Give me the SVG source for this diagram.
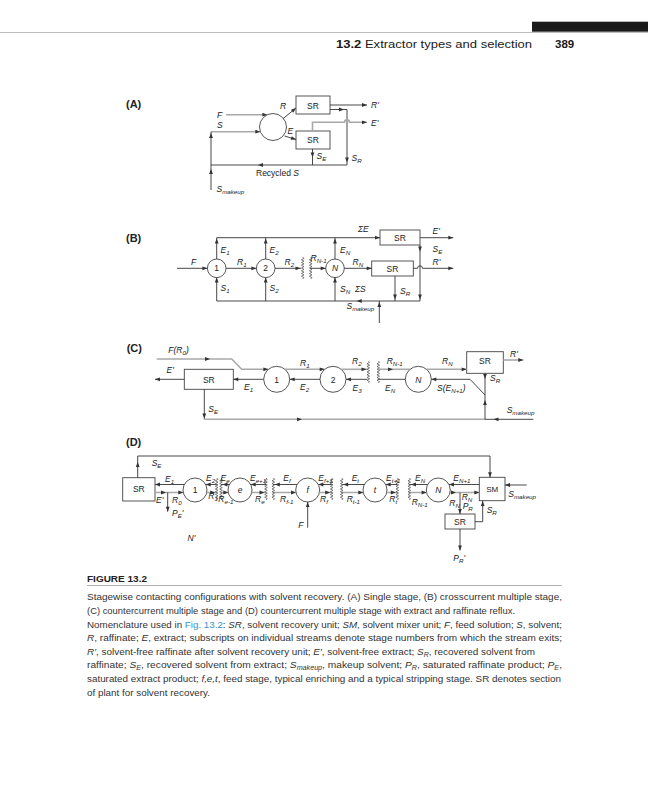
<svg xmlns="http://www.w3.org/2000/svg" width="648" height="800" viewBox="0 0 648 800">
<style>
.k{fill:none;stroke:#333;stroke-width:.9}
.g{fill:none;stroke:#a9a9a9;stroke-width:1.6}
.nd{fill:#fff;stroke:#444;stroke-width:.9}
text{font-family:"Liberation Sans",Arial,Helvetica,sans-serif;fill:#222}
.t{font-size:8.5px;font-style:italic}
.u{font-size:8.5px}
.c{text-anchor:middle}
.sb{font-size:6.2px}
.pl{font-size:11px;font-weight:bold}
.hd{font-size:11.5px;fill:#1a1a1a}
.cap{font-size:9.3px;fill:#333}
.i{font-style:italic}
.cs{font-size:6.5px}
.lk{fill:#3b8fd0}
</style>
<defs>
<path id="ah" fill="#333" d="M0,0 L-5,-1.9 L-5,1.9 Z"/>
<path id="zz" fill="none" stroke="#444" stroke-width="0.7" d="M0,-11 l1.3,1.375 l-2.6,1.375 l2.6,1.375 l-2.6,1.375 l2.6,1.375 l-2.6,1.375 l2.6,1.375 l-2.6,1.375 l2.6,1.375 l-2.6,1.375 l2.6,1.375 l-2.6,1.375 l2.6,1.375 l-2.6,1.375 l2.6,1.375 l-1.3,1.375"/>
</defs>
<rect width="648" height="800" fill="#fff"/>

<!-- header -->
<g id="header">
<rect x="532" y="21.7" width="116" height="10" fill="#1a1a1a"/>
<line x1="0" y1="32.5" x2="648" y2="32.5" stroke="#bdbdbd" stroke-width="1"/>
<text class="hd" x="336" y="48" textLength="196" lengthAdjust="spacingAndGlyphs"><tspan font-weight="bold">13.2</tspan> Extractor types and selection</text>
<text class="hd" x="555" y="48" font-weight="bold">389</text>
</g>

<!-- ================= PANEL A ================= -->
<g id="A-mixer"><circle class="nd" cx="273" cy="127" r="13.5"/></g>
<g id="A-SR1"><rect class="nd" x="296" y="96" width="34" height="18"/><text class="u c" x="313" y="108.5">SR</text></g>
<g id="A-SR2"><rect class="nd" x="296" y="131" width="34" height="18"/><text class="u c" x="313" y="143">SR</text></g>
<g id="A-connectors">
<path class="g" d="M226,114.7H267.4"/>
<path class="g" d="M211,131.7H260.3"/>
<path class="k" d="M211,190V131.7"/>
<path class="k" d="M347,165H211"/>
<path class="k" d="M283,118.7L296,108"/>
<path class="k" d="M284.5,136L296,139.5"/>
<path class="k" d="M330,105H367"/>
<path class="k" d="M330,109.5H347V165"/>
<path class="g" d="M312.5,131V122.3H344.5A2.5,2.5 0 0 1 349.5,122.3H367"/>
<path class="k" d="M312.5,149V165"/>
<use href="#ah" transform="translate(267.4 114.7)"/>
<use href="#ah" transform="translate(260.3 131.7)"/>
<use href="#ah" transform="translate(211 133) rotate(-90)"/>
<use href="#ah" transform="translate(211 169) rotate(-90)"/>
<use href="#ah" transform="translate(258 165) rotate(180)"/>
<use href="#ah" transform="translate(296 108) rotate(-39.5)"/>
<use href="#ah" transform="translate(296 139.5) rotate(17)"/>
<use href="#ah" transform="translate(367 105)"/>
<use href="#ah" transform="translate(344 109.5)"/>
<use href="#ah" transform="translate(347 162.5) rotate(90)"/>
<use href="#ah" transform="translate(367 122.3)"/>
<use href="#ah" transform="translate(312.5 157.5) rotate(90)"/>
</g>
<g id="A-labels">
<text class="pl" x="126" y="108">(A)</text>
<text class="t" x="217" y="117.5">F</text>
<text class="t" x="217" y="127.5">S</text>
<text class="t" x="280" y="108.5">R</text>
<text class="t" x="287.5" y="134.3">E</text>
<text class="t" x="371" y="108.3">R'</text>
<text class="t" x="371" y="125.5">E'</text>
<text class="t" x="316.5" y="158.5">S<tspan class="sb" dy="2">E</tspan></text>
<text class="t" x="351.5" y="161">S<tspan class="sb" dy="2">R</tspan></text>
<text class="u" x="256" y="175.5">Recycled <tspan class="i">S</tspan></text>
<text class="t" x="216.5" y="191.5">S<tspan class="sb" dy="2">makeup</tspan></text>
</g>

<!-- ================= PANEL B ================= -->
<g id="B-stage1"><circle class="nd" cx="216.7" cy="268.3" r="9.3"/><text class="u c" x="216.7" y="271.3">1</text></g>
<g id="B-stage2"><circle class="nd" cx="265.7" cy="268.3" r="9.3"/><text class="u c" x="265.7" y="271.3">2</text></g>
<g id="B-stageN"><circle class="nd" cx="335" cy="268.3" r="9.3"/><text class="t c" x="335" y="271.3">N</text></g>
<g id="B-SR1"><rect class="nd" x="380" y="230" width="40" height="15"/><text class="u c" x="400" y="241">SR</text></g>
<g id="B-SR2"><rect class="nd" x="371.7" y="261" width="41.6" height="15"/><text class="u c" x="392.5" y="272">SR</text></g>
<g id="B-connectors">
<path class="k" d="M216.7,237.7H380"/>
<path class="k" d="M216.7,301H420V245"/>
<path class="k" d="M216.7,259V237.7M265.7,259V237.7M335,259V237.7"/>
<path class="k" d="M216.7,301V277.6M265.7,301V277.6M335,301V277.6"/>
<path class="k" d="M177,268.3H207.4"/>
<path class="k" d="M226,268.3H256.4"/>
<path class="k" d="M275,268.3H301"/>
<use href="#zz" x="302.7" y="268"/>
<use href="#zz" x="310.7" y="268"/>
<path class="k" d="M310.7,268.3H325.7"/>
<path class="k" d="M344.3,268.3H371.7"/>
<path class="k" d="M420,237.7H453.3"/>
<path class="k" d="M413.3,268.3H417.5A2.5,2.5 0 0 1 422.5,268.3H453.3"/>
<path class="k" d="M395,276V301"/>
<path class="k" d="M379.3,323V301"/>
<use href="#ah" transform="translate(380 237.7)"/>
<use href="#ah" transform="translate(420 251.5) rotate(90)"/>
<use href="#ah" transform="translate(420 299.5) rotate(90)"/>
<use href="#ah" transform="translate(356.7 301) rotate(180)"/>
<use href="#ah" transform="translate(216.7 238.5) rotate(-90)"/>
<use href="#ah" transform="translate(265.7 238.5) rotate(-90)"/>
<use href="#ah" transform="translate(335 238.5) rotate(-90)"/>
<use href="#ah" transform="translate(216.7 277.6) rotate(-90)"/>
<use href="#ah" transform="translate(265.7 277.6) rotate(-90)"/>
<use href="#ah" transform="translate(335 277.6) rotate(-90)"/>
<use href="#ah" transform="translate(207.4 268.3)"/>
<use href="#ah" transform="translate(256.4 268.3)"/>
<use href="#ah" transform="translate(300.5 268.3)"/>
<use href="#ah" transform="translate(325.7 268.3)"/>
<use href="#ah" transform="translate(371.7 268.3)"/>
<use href="#ah" transform="translate(453.3 237.7)"/>
<use href="#ah" transform="translate(453.3 268.3)"/>
<use href="#ah" transform="translate(395 299.5) rotate(90)"/>
<use href="#ah" transform="translate(379.3 302) rotate(-90)"/>
</g>
<g id="B-labels">
<text class="pl" x="126" y="241.7">(B)</text>
<text class="t" x="191" y="265.3">F</text>
<text class="t" x="220.5" y="252.5">E<tspan class="sb" dy="2">1</tspan></text>
<text class="t" x="269.5" y="252.5">E<tspan class="sb" dy="2">2</tspan></text>
<text class="t" x="340" y="253">E<tspan class="sb" dy="2">N</tspan></text>
<text class="t" x="220.5" y="290.5">S<tspan class="sb" dy="2">1</tspan></text>
<text class="t" x="269.5" y="290.5">S<tspan class="sb" dy="2">2</tspan></text>
<text class="t" x="340" y="291.5">S<tspan class="sb" dy="2">N</tspan></text>
<text class="t" x="355" y="291.5">ΣS</text>
<text class="t" x="237" y="265.3">R<tspan class="sb" dy="2">1</tspan></text>
<text class="t" x="284.5" y="265.3">R<tspan class="sb" dy="2">2</tspan></text>
<text class="t" x="310.5" y="260.5">R<tspan class="sb" dy="2">N-1</tspan></text>
<text class="t" x="352.5" y="265.3">R<tspan class="sb" dy="2">N</tspan></text>
<text class="t" x="358" y="232.3">ΣE</text>
<text class="t" x="432.5" y="233.5">E'</text>
<text class="t" x="432.5" y="251.5">S<tspan class="sb" dy="2">E</tspan></text>
<text class="t" x="432.5" y="264.5">R'</text>
<text class="t" x="400" y="293.5">S<tspan class="sb" dy="2">R</tspan></text>
<text class="t" x="346.5" y="309">S<tspan class="sb" dy="2">makeup</tspan></text>
</g>

<!-- ================= PANEL C ================= -->
<g id="C-SR1"><rect class="nd" x="184.3" y="369.3" width="49" height="20"/><text class="u c" x="208.8" y="382.5">SR</text></g>
<g id="C-stage1"><circle class="nd" cx="276.7" cy="379.3" r="13"/><text class="u c" x="276.7" y="382.5">1</text></g>
<g id="C-stage2"><circle class="nd" cx="333" cy="379.3" r="13"/><text class="u c" x="333" y="382.5">2</text></g>
<g id="C-stageN"><circle class="nd" cx="418.3" cy="379.3" r="13"/><text class="t c" x="418.3" y="382.5">N</text></g>
<g id="C-SR2"><rect class="nd" x="466.7" y="351.7" width="36.6" height="21.6"/><text class="u c" x="485" y="363.5">SR</text></g>
<g id="C-connectors">
<path class="g" d="M156.7,359H231.7L241.7,369.3H268.4"/>
<path class="g" d="M285,369.3H324.7"/>
<path class="k" d="M320,379.3H289.7"/>
<path class="k" d="M263.7,379.3H233.3"/>
<path class="k" d="M184.3,379.3H155"/>
<path class="k" d="M204.3,389.3V419.3"/>
<path class="g" d="M204.3,419.3H485"/>
<path class="g" d="M341.3,369.3H367"/>
<use href="#zz" x="368.3" y="372"/>
<use href="#zz" x="378.3" y="372"/>
<path class="k" d="M367,379.3H346"/>
<path class="g" d="M378.3,369.3H410"/>
<path class="k" d="M405.3,379.3H378.3"/>
<path class="g" d="M426.6,369.3H466.7"/>
<path class="g" d="M503.3,360H523.3"/>
<path class="k" d="M470,379.3H431.3M470,379.3L485,395"/>
<path class="k" d="M485,373.3V419.3"/>
<path class="k" d="M533.3,419.3H485"/>
<use href="#ah" transform="translate(210 359)"/>
<use href="#ah" transform="translate(268.4 369.3)"/>
<use href="#ah" transform="translate(324.7 369.3)"/>
<use href="#ah" transform="translate(289.7 379.3) rotate(180)"/>
<use href="#ah" transform="translate(233.3 379.3) rotate(180)"/>
<use href="#ah" transform="translate(155 379.3) rotate(180)"/>
<use href="#ah" transform="translate(204.3 418.5) rotate(90)"/>
<use href="#ah" transform="translate(302 419.3)"/>
<use href="#ah" transform="translate(366.5 369.3)"/>
<use href="#ah" transform="translate(346 379.3) rotate(180)"/>
<use href="#ah" transform="translate(393 369.3)"/>
<use href="#ah" transform="translate(466.7 369.3)"/>
<use href="#ah" transform="translate(523.3 360)"/>
<use href="#ah" transform="translate(431.3 379.3) rotate(180)"/>
<use href="#ah" transform="translate(485 379) rotate(90)"/>
<use href="#ah" transform="translate(485 400) rotate(-90)"/>
<use href="#ah" transform="translate(493.5 419.3) rotate(180)"/>
</g>
<g id="C-labels">
<text class="pl" x="126.7" y="351.5">(C)</text>
<text class="t" x="168.3" y="353">F(R<tspan class="sb" dy="2">0</tspan><tspan dy="-2">)</tspan></text>
<text class="t" x="166.5" y="372.5">E'</text>
<text class="t" x="244" y="390">E<tspan class="sb" dy="2">1</tspan></text>
<text class="t" x="300" y="390">E<tspan class="sb" dy="2">2</tspan></text>
<text class="t" x="300" y="365.5">R<tspan class="sb" dy="2">1</tspan></text>
<text class="t" x="208.3" y="412">S<tspan class="sb" dy="2">E</tspan></text>
<text class="t" x="352" y="364">R<tspan class="sb" dy="2">2</tspan></text>
<text class="t" x="352.5" y="390.5">E<tspan class="sb" dy="2">3</tspan></text>
<text class="t" x="386.7" y="364">R<tspan class="sb" dy="2">N-1</tspan></text>
<text class="t" x="385" y="390.5">E<tspan class="sb" dy="2">N</tspan></text>
<text class="t" x="442" y="364">R<tspan class="sb" dy="2">N</tspan></text>
<text class="t" x="437" y="390.7">S(E<tspan class="sb" dy="2">N+1</tspan><tspan dy="-2">)</tspan></text>
<text class="t" x="510" y="357">R'</text>
<text class="t" x="490" y="381">S<tspan class="sb" dy="2">R</tspan></text>
<text class="t" x="506.7" y="412.7">S<tspan class="sb" dy="2">makeup</tspan></text>
</g>

<!-- ================= PANEL D ================= -->
<g id="D-SR1"><rect class="nd" x="122.7" y="477.7" width="32.3" height="23.3"/><text class="u c" x="138.8" y="492.3">SR</text></g>
<g id="D-stage1"><circle class="nd" cx="195" cy="490" r="12"/><text class="u c" x="195" y="493">1</text></g>
<g id="D-stageE"><circle class="nd" cx="240" cy="490" r="12"/><text class="t c" x="240" y="493">e</text></g>
<g id="D-stageF"><circle class="nd" cx="307.7" cy="490" r="12"/><text class="t c" x="307.7" y="493">f</text></g>
<g id="D-stageT"><circle class="nd" cx="375" cy="490" r="12"/><text class="t c" x="375" y="493">t</text></g>
<g id="D-stageN"><circle class="nd" cx="438.3" cy="490" r="12"/><text class="t c" x="438.3" y="493">N</text></g>
<g id="D-SM"><rect class="nd" x="479.3" y="477.3" width="25.7" height="23.4"/><text class="u c" x="492.2" y="492" style="font-size:8px">SM</text></g>
<g id="D-SR2"><rect class="nd" x="445" y="514" width="30" height="15"/><text class="u c" x="460" y="524.8">SR</text></g>
<g id="D-connectors">
<path class="k" d="M137.7,477.7V456H490V477.3"/>
<path class="k" d="M479.3,484.5H449M427.6,484.5H409.3M397.3,484.5H385.7M364.3,484.5H341.7M331.7,484.5H318.4M297,484.5H273.3M266,484.5H250.7M229.3,484.5H221M216.7,484.5H205.7M184.3,484.5H155"/>
<path class="g" d="M155,492.5H183.3M206.7,492.5H216.7M221,492.5H228.3M251.7,492.5H266M273.3,492.5H296M319.4,492.5H331.7M341.7,492.5H363.3M386.7,492.5H397.3M409.3,492.5H426.6M450,492.5H479.3"/>
<use href="#zz" x="216.7" y="489"/>
<use href="#zz" x="221" y="489"/>
<use href="#zz" x="266" y="489"/>
<use href="#zz" x="273.3" y="489"/>
<use href="#zz" x="331.7" y="489"/>
<use href="#zz" x="341.7" y="489"/>
<use href="#zz" x="397.3" y="489"/>
<use href="#zz" x="409.3" y="489"/>
<path class="k" d="M167.7,492.5V511.7"/>
<path class="k" d="M460,492.5V514"/>
<path class="k" d="M307.7,527.7V502"/>
<path class="k" d="M475,521.7H482.7V500.7"/>
<path class="k" d="M460,529V550.5"/>
<path class="k" d="M526.7,485H505"/>
<use href="#ah" transform="translate(137.7 462) rotate(-90)"/>
<use href="#ah" transform="translate(490 477.3) rotate(90)"/>
<use href="#ah" transform="translate(449 484.5) rotate(180)"/>
<use href="#ah" transform="translate(411 484.5) rotate(180)"/>
<use href="#ah" transform="translate(385.7 484.5) rotate(180)"/>
<use href="#ah" transform="translate(343.2 484.5) rotate(180)"/>
<use href="#ah" transform="translate(318.4 484.5) rotate(180)"/>
<use href="#ah" transform="translate(274.8 484.5) rotate(180)"/>
<use href="#ah" transform="translate(250.7 484.5) rotate(180)"/>
<use href="#ah" transform="translate(222.5 484.5) rotate(180)"/>
<use href="#ah" transform="translate(205.7 484.5) rotate(180)"/>
<use href="#ah" transform="translate(155 484.5) rotate(180)"/>
<use href="#ah" transform="translate(166 492.5)"/>
<use href="#ah" transform="translate(183.3 492.5)"/>
<use href="#ah" transform="translate(215.2 492.5)"/>
<use href="#ah" transform="translate(228.3 492.5)"/>
<use href="#ah" transform="translate(264.5 492.5)"/>
<use href="#ah" transform="translate(296 492.5)"/>
<use href="#ah" transform="translate(330.2 492.5)"/>
<use href="#ah" transform="translate(363.3 492.5)"/>
<use href="#ah" transform="translate(395.8 492.5)"/>
<use href="#ah" transform="translate(426.6 492.5)"/>
<use href="#ah" transform="translate(456 492.5)"/>
<use href="#ah" transform="translate(479.3 492.5)"/>
<use href="#ah" transform="translate(167.7 511.7) rotate(90)"/>
<use href="#ah" transform="translate(460 514) rotate(90)"/>
<use href="#ah" transform="translate(307.7 502) rotate(-90)"/>
<use href="#ah" transform="translate(482.7 501) rotate(-90)"/>
<use href="#ah" transform="translate(460 550.5) rotate(90)"/>
<use href="#ah" transform="translate(505 485) rotate(180)"/>
</g>
<g id="D-labels">
<text class="pl" x="126" y="446">(D)</text>
<text class="t" x="151.7" y="466">S<tspan class="sb" dy="2">E</tspan></text>
<text class="t" x="165" y="482">E<tspan class="sb" dy="2">1</tspan></text>
<text class="t" x="156" y="502.7">E'</text>
<text class="t" x="172" y="503.3">R<tspan class="sb" dy="2">0</tspan></text>
<text class="t" x="172" y="515.5">P<tspan class="sb" dy="2">E</tspan><tspan dy="-2">'</tspan></text>
<text class="t" x="187.5" y="541">N'</text>
<text class="t" x="206" y="480.5">E<tspan class="sb" dy="2">2</tspan></text>
<text class="t" x="220.5" y="480.5">E<tspan class="sb" dy="2">e</tspan></text>
<text class="t" x="250" y="480.5">E<tspan class="sb" dy="2">e+1</tspan></text>
<text class="t" x="283.3" y="480.5">E<tspan class="sb" dy="2">f</tspan></text>
<text class="t" x="318.3" y="480.5">E<tspan class="sb" dy="2">f+1</tspan></text>
<text class="t" x="351.7" y="480.5">E<tspan class="sb" dy="2">t</tspan></text>
<text class="t" x="386" y="480.5">E<tspan class="sb" dy="2">t+1</tspan></text>
<text class="t" x="415" y="480.5">E<tspan class="sb" dy="2">N</tspan></text>
<text class="t" x="453.3" y="480.5">E<tspan class="sb" dy="2">N+1</tspan></text>
<text class="t" x="208.3" y="499">R<tspan class="sb" dy="2">1</tspan></text>
<text class="t" x="218.3" y="501.5">R<tspan class="sb" dy="2">e-1</tspan></text>
<text class="t" x="255" y="501.5">R<tspan class="sb" dy="2">e</tspan></text>
<text class="t" x="280" y="501.5">R<tspan class="sb" dy="2">f-1</tspan></text>
<text class="t" x="320" y="501.5">R<tspan class="sb" dy="2">f</tspan></text>
<text class="t" x="346.7" y="501.5">R<tspan class="sb" dy="2">t-1</tspan></text>
<text class="t" x="389.3" y="501.5">R<tspan class="sb" dy="2">t</tspan></text>
<text class="t" x="411.7" y="505">R<tspan class="sb" dy="2">N-1</tspan></text>
<text class="t" x="449.3" y="506">R<tspan class="sb" dy="2">N</tspan></text>
<text class="t" x="461.7" y="500">R<tspan class="sb" dy="2">N</tspan></text>
<text class="t" x="462.7" y="509.3">P<tspan class="sb" dy="2">R</tspan></text>
<text class="t" x="486.7" y="512.7">S<tspan class="sb" dy="2">R</tspan></text>
<text class="t" x="298.3" y="527.7">F</text>
<text class="t" x="453.3" y="560.7">P<tspan class="sb" dy="2">R</tspan><tspan dy="-2">'</tspan></text>
<text class="t" x="508.3" y="497.3">S<tspan class="sb" dy="2">makeup</tspan></text>
</g>

<!-- ================= CAPTION ================= -->
<g id="caption">
<text x="87" y="581.5" style="font-size:9.6px;font-weight:bold;fill:#222" textLength="60" lengthAdjust="spacingAndGlyphs">FIGURE 13.2</text>
<line x1="87" y1="585.5" x2="562" y2="585.5" stroke="#9a9a9a" stroke-width="0.8"/>
<text class="cap" x="87" y="600.3" textLength="475" lengthAdjust="spacingAndGlyphs">Stagewise contacting configurations with solvent recovery. (A) Single stage, (B) crosscurrent multiple stage,</text>
<text class="cap" x="87" y="613.9" textLength="428" lengthAdjust="spacingAndGlyphs">(C) countercurrent multiple stage and (D) countercurrent multiple stage with extract and raffinate reflux.</text>
<text class="cap" x="87" y="627.5" textLength="475" lengthAdjust="spacingAndGlyphs">Nomenclature used in <tspan class="lk">Fig. 13.2</tspan>: <tspan class="i">SR</tspan>, solvent recovery unit; <tspan class="i">SM</tspan>, solvent mixer unit; <tspan class="i">F</tspan>, feed solution; <tspan class="i">S</tspan>, solvent;</text>
<text class="cap" x="87" y="641.1" textLength="475" lengthAdjust="spacingAndGlyphs"><tspan class="i">R</tspan>, raffinate; <tspan class="i">E</tspan>, extract; subscripts on individual streams denote stage numbers from which the stream exits;</text>
<text class="cap" x="87" y="654.7" textLength="448" lengthAdjust="spacingAndGlyphs"><tspan class="i">R′</tspan>, solvent-free raffinate after solvent recovery unit; <tspan class="i">E′</tspan>, solvent-free extract; <tspan class="i">S</tspan><tspan class="i cs" dy="2">R</tspan><tspan dy="-2">, recovered solvent from</tspan></text>
<text class="cap" x="87" y="668.3" textLength="475" lengthAdjust="spacingAndGlyphs">raffinate; <tspan class="i">S</tspan><tspan class="i cs" dy="2">E</tspan><tspan dy="-2">, recovered solvent from extract; </tspan><tspan class="i">S</tspan><tspan class="i cs" dy="2">makeup</tspan><tspan dy="-2">, makeup solvent; </tspan><tspan class="i">P</tspan><tspan class="i cs" dy="2">R</tspan><tspan dy="-2">, saturated raffinate product; </tspan><tspan class="i">P</tspan><tspan class="i cs" dy="2">E</tspan><tspan dy="-2">,</tspan></text>
<text class="cap" x="87" y="681.9" textLength="474" lengthAdjust="spacingAndGlyphs">saturated extract product; <tspan class="i">f,e,t</tspan>, feed stage, typical enriching and a typical stripping stage. SR denotes section</text>
<text class="cap" x="87" y="695.5" textLength="123" lengthAdjust="spacingAndGlyphs">of plant for solvent recovery.</text>
</g>
</svg>
